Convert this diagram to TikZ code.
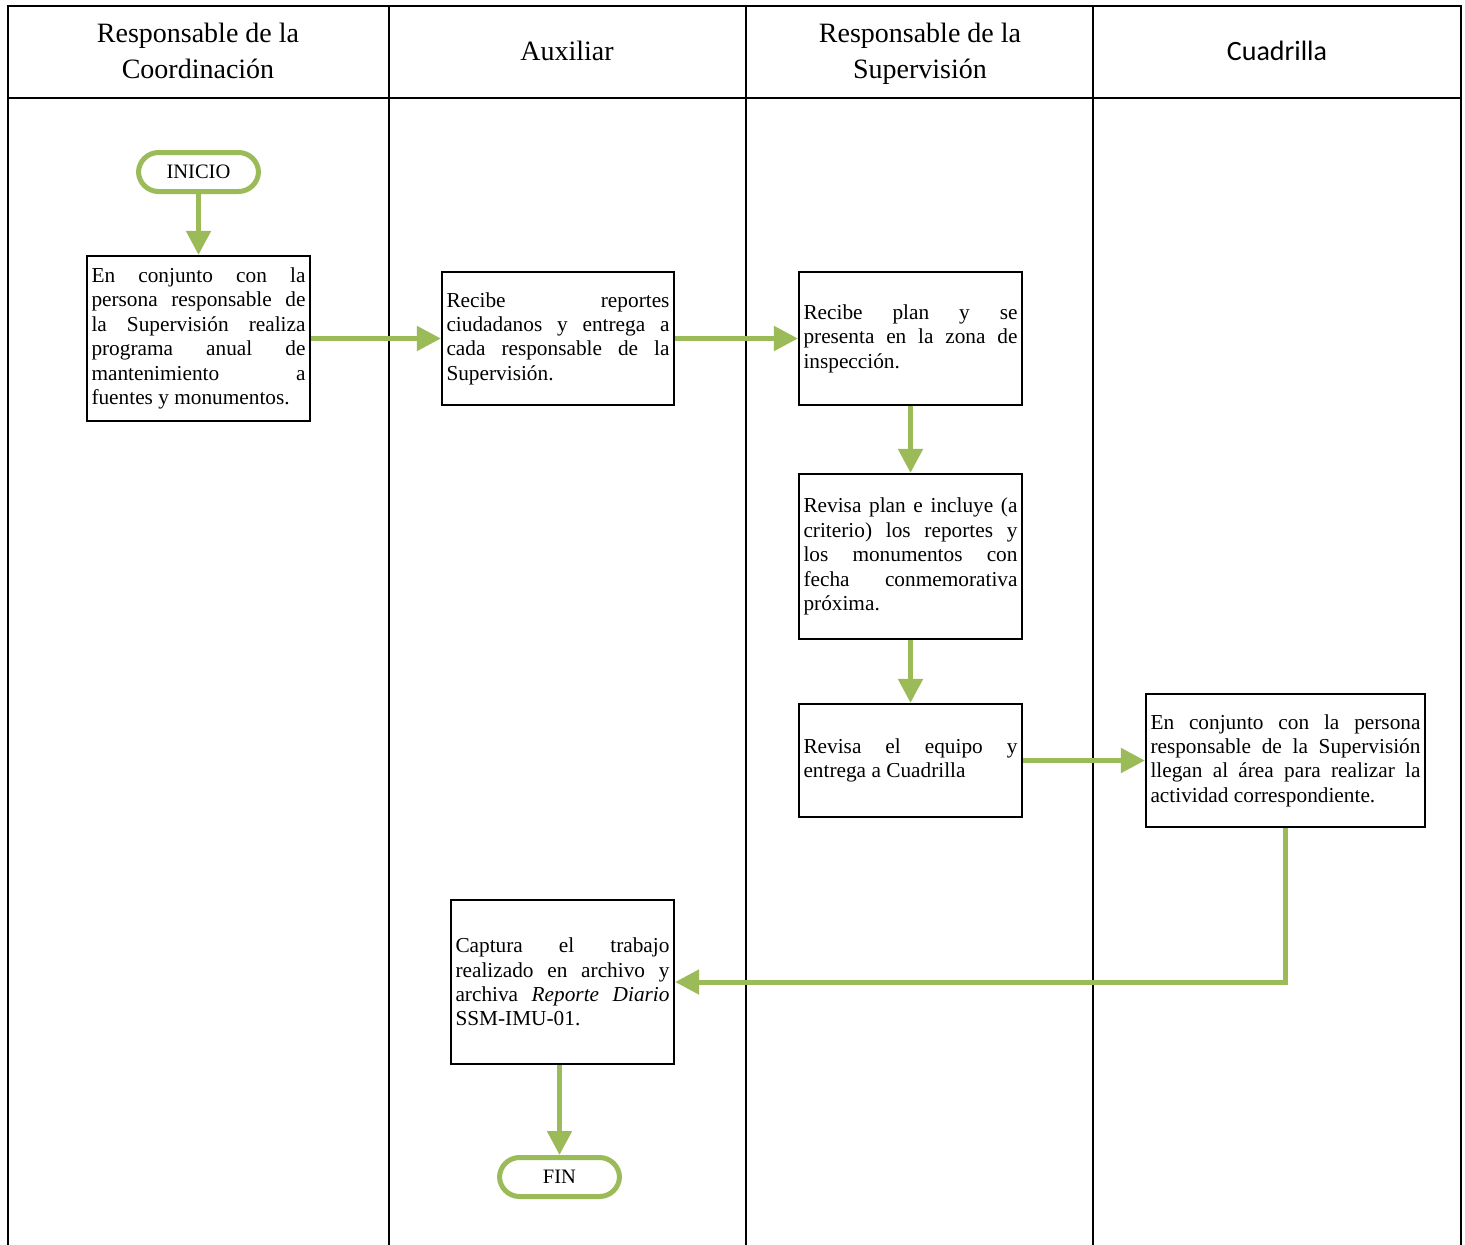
\documentclass[tikz,border=0pt]{standalone}
\usepackage{fontspec}
\setmainfont{Liberation Serif}
\newfontfamily\calibrifont{Carlito}
\usetikzlibrary{arrows.meta}

\definecolor{flowgreen}{RGB}{155,187,89}

\tikzset{
    lane/.style = {line width=1.5pt, black},
    header/.style = {align=center, font=\fontsize{28}{36}\selectfont},
    proc/.style = {draw, line width=2.2pt, align=justify, inner xsep=4.5pt,
                   font=\fontsize{21.3}{24.4}\selectfont},
    terminal/.style = {draw=flowgreen, line width=5pt, rounded corners=20pt,
                       minimum width=120pt, minimum height=39pt,
                       font=\fontsize{20.5}{24.4}\selectfont},
    flow/.style = {draw=flowgreen, line width=5pt,
                   -{Triangle[length=24pt,width=24pt]}}
}

\begin{document}
\begin{tikzpicture}[x=1pt,y=-1pt]
    \useasboundingbox (0,0) rectangle (1465,1245);

    % swimlanes
    \draw [lane] (8,1245) |- (1461,6) -- (1461,1245);
    \draw [lane] (8,98) -- (1461,98);
    \foreach \xpos in {389,746,1093}
        \draw [lane] (\xpos,6) -- (\xpos,1245);

    \node[header](coordinacion) at (198,51) {Responsable de la\\Coordinación};
    \node[header](auxiliar) at (567,51) {Auxiliar};
    \node[header](supervision) at (920,54) {Responsable de la\\Supervisión};
    \node[header,font=\calibrifont\fontsize{28}{36}\selectfont](cuadrilla) at (1277,51) {Cuadrilla};

    % steps
    \node[terminal](inicio) at (198.5,172) {INICIO};
    \node[proc,text width=214pt,minimum height=165pt](programa) at (198.5,338.5)
        {En conjunto con la\linebreak persona responsable de\linebreak la Supervisión realiza\linebreak programa anual de\linebreak mantenimiento a\linebreak fuentes y monumentos.};
    \node[proc,text width=223pt,minimum height=133pt](reportes) at (558,338.5)
        {Recibe reportes\linebreak ciudadanos y entrega a\linebreak cada responsable de la\linebreak Supervisión.};
    \node[proc,text width=214pt,minimum height=133pt](recibePlan) at (910.5,338.5)
        {Recibe plan y se\linebreak presenta en la zona de\linebreak inspección.};
    \node[proc,text width=214pt,minimum height=165pt](revisaPlan) at (910.5,556.5)
        {Revisa plan e incluye (a\linebreak criterio) los reportes y\linebreak los monumentos con\linebreak fecha conmemorativa\linebreak próxima.};
    \node[proc,text width=214pt,minimum height=113pt](revisaEquipo) at (910.5,760.5)
        {Revisa el equipo y\linebreak entrega a Cuadrilla};
    \node[proc,text width=270pt,minimum height=133pt](actividad) at (1285.5,760.5)
        {En conjunto con la persona\linebreak responsable de la Supervisión\linebreak llegan al área para realizar la\linebreak actividad correspondiente.};
    \node[proc,text width=214pt,minimum height=164pt](captura) at (562.5,982)
        {Captura el trabajo\linebreak realizado en archivo y\linebreak archiva \textit{Reporte Diario}\linebreak SSM-IMU-01.};
    \node[terminal](fin) at (559.5,1177) {FIN};

    % connectors
    \draw [flow] (inicio) -- (programa);
    \draw [flow] (programa.east) -- (reportes.west);
    \draw [flow] (reportes.east) -- (recibePlan.west);
    \draw [flow] (recibePlan) -- (revisaPlan);
    \draw [flow] (revisaPlan) -- (revisaEquipo);
    \draw [flow] (revisaEquipo.east) -- (actividad.west);
    \draw [flow] (actividad.south) |- (captura.east);
    \draw [flow] (captura.south -| fin) -- (fin);
\end{tikzpicture}
\end{document}
